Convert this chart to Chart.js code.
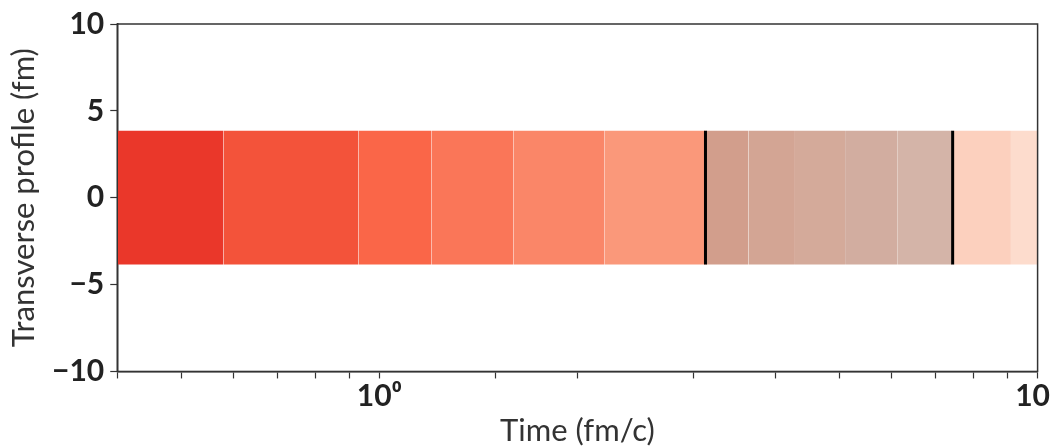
<!DOCTYPE html>
<html>
<head>
<meta charset="utf-8">
<script src="https://cdn.jsdelivr.net/npm/chart.js@4"></script>
<style>
  html, body { margin: 0; padding: 0; background: #fff; overflow: hidden; }
  #wrap { width: 1051px; height: 447px; overflow: hidden; }
  #box { width: 1061px; height: 447px; }
</style>
</head>
<body>
<div id="wrap"><div id="box"><canvas id="chart"></canvas></div></div>
<script>
// segment edges in time (fm/c), log axis
const timeEdges = [0.4, 0.58, 0.93, 1.2, 1.6, 2.2, 3.13, 3.64, 4.28, 5.1, 6.12, 7.43, 9.11, 10];
const segmentColors = [
  "#ea372a", "#f3533a", "#fa6648", "#fa7658", "#fa8668", "#fa987a",
  "#d29e8c", "#d3a594", "#d4aa9a", "#d2ada0", "#d4b4a8",
  "#fcd0be", "#fddccd"
];
const bandTop = [3.85];
const bandBottom = [-3.85];
const markerTimes = [3.13, 7.43];
const yTicks = [-10, -5, 0, 5, 10];
const xTickLabels = { 1: "10\u2070", 10: "10\u00b9" };

const datasets = [];
for (let i = 0; i < segmentColors.length; i++) {
  datasets.push({
    data: [{ x: timeEdges[i], y: bandTop[0] }, { x: timeEdges[i + 1], y: bandTop[0] }],
    backgroundColor: segmentColors[i],
    borderWidth: 0,
    pointRadius: 0,
    order: 2,
    fill: { value: bandBottom[0] }
  });
}
markerTimes.forEach(t => {
  datasets.push({
    data: [{ x: t, y: bandBottom[0] }, { x: t, y: bandTop[0] }],
    borderColor: "#000",
    borderWidth: 3,
    pointRadius: 0,
    order: 0,
    fill: false
  });
});

// full box around the plot area
const frame = {
  id: "frame",
  afterDraw(chart) {
    const { ctx, chartArea: a } = chart;
    ctx.save();
    ctx.strokeStyle = "#333";
    ctx.lineWidth = 1.5;
    ctx.strokeRect(a.left, a.top, a.right - a.left, a.bottom - a.top);
    ctx.restore();
  }
};

const tickFont = { family: "Lato", size: 30, weight: "bold" };
const titleFont = { family: "Lato", size: 31, lineHeight: 1.05 };

new Chart(document.getElementById("chart"), {
  type: "line",
  data: { datasets },
  plugins: [frame],
  options: {
    responsive: true,
    maintainAspectRatio: false,
    animation: false,
    layout: { padding: { top: 3, left: 7.5, right: 0, bottom: 0 } },
    plugins: { legend: { display: false }, tooltip: { enabled: false } },
    scales: {
      x: {
        type: "logarithmic",
        min: timeEdges[0],
        max: timeEdges[timeEdges.length - 1],
        grid: { drawOnChartArea: false, tickLength: 7, tickColor: "#333", tickWidth: 1.2 },
        border: { color: "#333", width: 1.5 },
        ticks: {
          autoSkip: false,
          maxRotation: 0,
          color: "#222",
          font: { ...tickFont, lineHeight: 1.1 },
          padding: 1,
          callback: v => xTickLabels[v] || ""
        },
        title: { display: true, text: "Time (fm/c)", color: "#333", font: titleFont, padding: { top: 1, bottom: 0 } }
      },
      y: {
        min: yTicks[0],
        max: yTicks[yTicks.length - 1],
        afterBuildTicks: s => { s.ticks = yTicks.map(v => ({ value: v })); },
        grid: { drawOnChartArea: false, tickLength: 7, tickColor: "#333", tickWidth: 1.2 },
        border: { color: "#333", width: 1.5 },
        ticks: {
          color: "#222",
          font: tickFont,
          padding: 6,
          callback: v => String(v).replace("-", "\u2212")
        },
        title: { display: true, text: "Transverse profile (fm)", color: "#333", font: titleFont, padding: { top: 0, bottom: 6 } }
      }
    }
  }
});
</script>
</body>
</html>
